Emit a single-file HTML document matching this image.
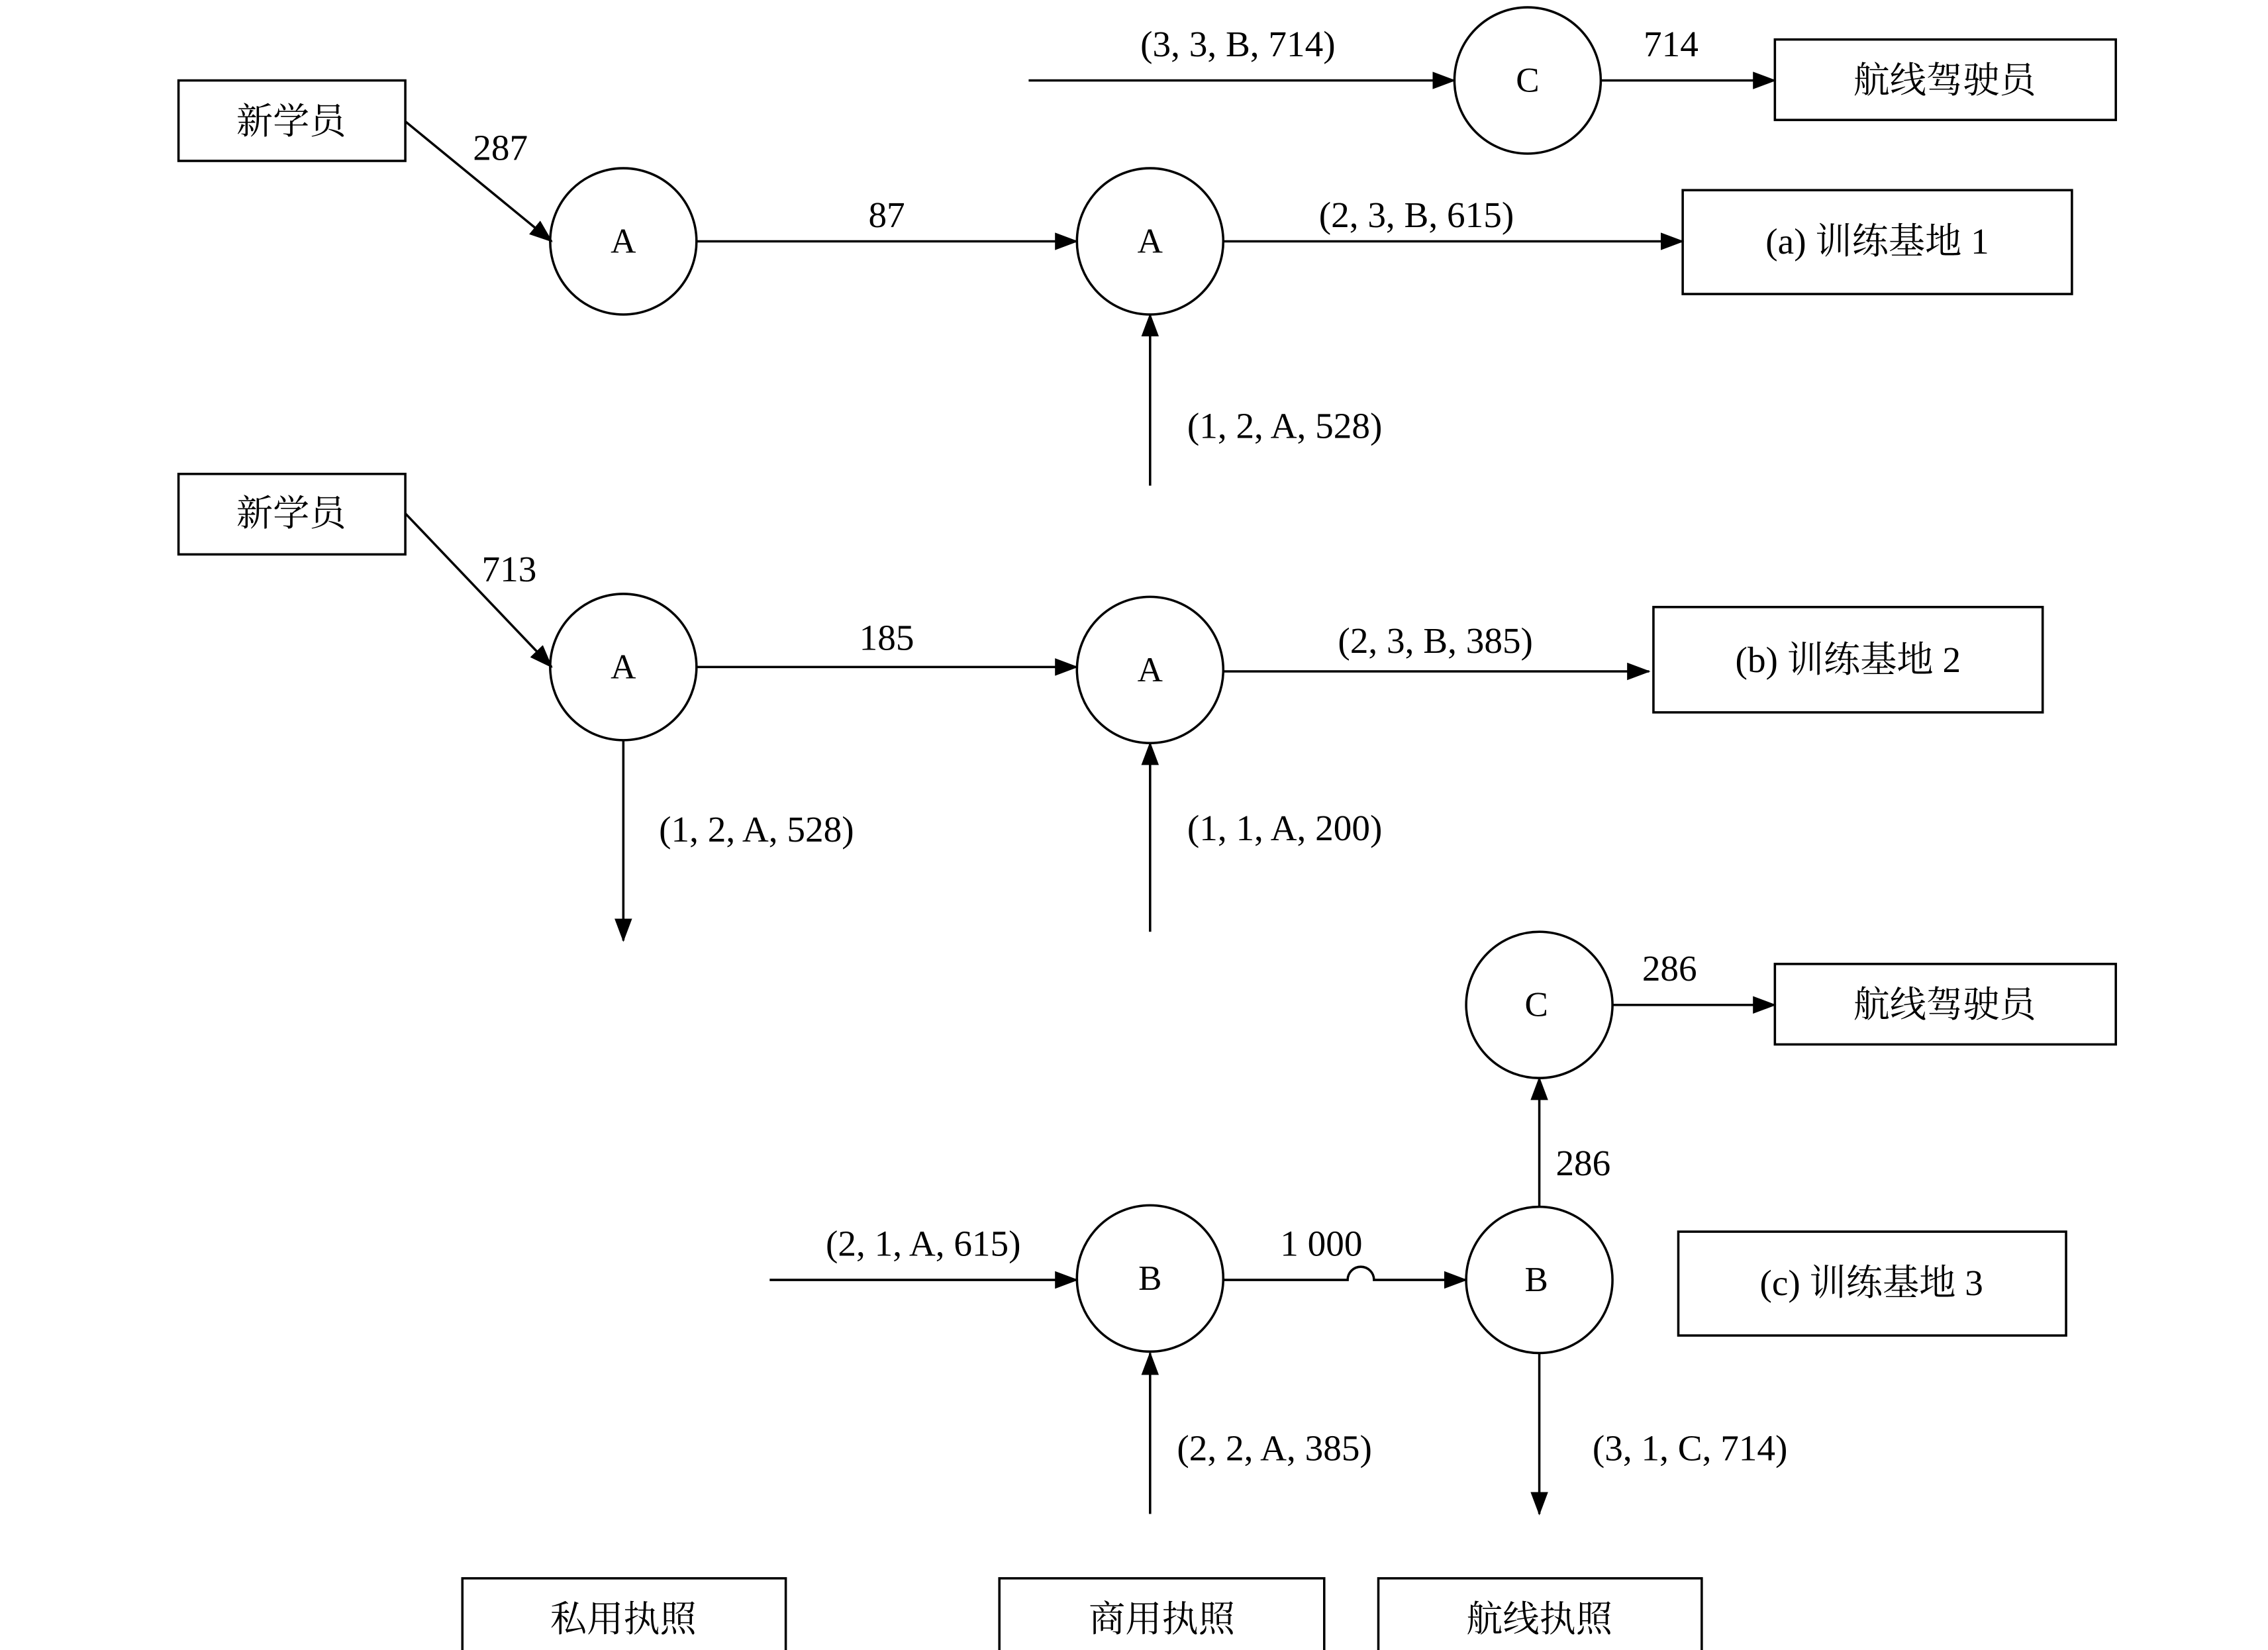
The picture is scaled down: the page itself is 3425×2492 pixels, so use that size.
<!DOCTYPE html>
<html><head><meta charset="utf-8">
<style>
html,body{margin:0;padding:0;background:#fff;}
svg{display:block;}
text{font-family:"Liberation Serif","Noto Serif CJK SC",serif;fill:#000;}
</style></head>
<body>
<svg width="3425" height="2492" viewBox="0 0 1550 1128" preserveAspectRatio="none" xmlns="http://www.w3.org/2000/svg">
<defs>
<marker id="ar" markerWidth="16" markerHeight="12" refX="15" refY="6" orient="auto" markerUnits="userSpaceOnUse">
<path d="M0,0 L16,6 L0,12 Z" fill="#000"/>
</marker>
</defs>
<g stroke="#000" stroke-width="1.6" fill="none">
<!-- boxes -->
<rect x="122" y="55" width="155" height="55"/>
<rect x="1213" y="27" width="233" height="55"/>
<rect x="1150" y="130" width="266" height="71"/>
<rect x="122" y="324" width="155" height="55"/>
<rect x="1130" y="415" width="266" height="72"/>
<rect x="1213" y="659" width="233" height="55"/>
<rect x="1147" y="842" width="265" height="71"/>
<rect x="316" y="1079" width="221" height="56"/>
<rect x="683" y="1079" width="222" height="56"/>
<rect x="942" y="1079" width="221" height="56"/>
<!-- circles -->
<circle cx="426" cy="165" r="50"/>
<circle cx="786" cy="165" r="50"/>
<circle cx="1044" cy="55" r="50"/>
<circle cx="426" cy="456" r="50"/>
<circle cx="786" cy="458" r="50"/>
<circle cx="1052" cy="687" r="50"/>
<circle cx="1052" cy="875" r="50"/>
<circle cx="786" cy="874" r="50"/>
<!-- arrows -->
<line x1="277" y1="83" x2="377" y2="165" marker-end="url(#ar)"/>
<line x1="476" y1="165" x2="736" y2="165" marker-end="url(#ar)"/>
<line x1="836" y1="165" x2="1150" y2="165" marker-end="url(#ar)"/>
<line x1="786" y1="332" x2="786" y2="215" marker-end="url(#ar)"/>
<line x1="703" y1="55" x2="994" y2="55" marker-end="url(#ar)"/>
<line x1="1094" y1="55" x2="1213" y2="55" marker-end="url(#ar)"/>
<line x1="277" y1="351" x2="377" y2="456" marker-end="url(#ar)"/>
<line x1="476" y1="456" x2="736" y2="456" marker-end="url(#ar)"/>
<line x1="836" y1="459" x2="1127" y2="459" marker-end="url(#ar)"/>
<line x1="426" y1="506" x2="426" y2="643" marker-end="url(#ar)"/>
<line x1="786" y1="637" x2="786" y2="508" marker-end="url(#ar)"/>
<line x1="1102" y1="687" x2="1213" y2="687" marker-end="url(#ar)"/>
<line x1="1052" y1="825" x2="1052" y2="737" marker-end="url(#ar)"/>
<line x1="526" y1="875" x2="736" y2="875" marker-end="url(#ar)"/>
<path d="M836,875 L921,875 A9,9 0 0 1 939,875 L1002,875" marker-end="url(#ar)"/>
<line x1="786" y1="1035" x2="786" y2="925" marker-end="url(#ar)"/>
<line x1="1052" y1="925" x2="1052" y2="1035" marker-end="url(#ar)"/>
</g>
<g font-size="25" text-anchor="middle" dominant-baseline="central">
<text x="199" y="83">新学员</text>
<text x="1329" y="55">航线驾驶员</text>
<text x="1283" y="165">(a) 训练基地 1</text>
<text x="199" y="351">新学员</text>
<text x="1263" y="451">(b) 训练基地 2</text>
<text x="1329" y="687">航线驾驶员</text>
<text x="1279" y="877">(c) 训练基地 3</text>
<text x="426" y="1107">私用执照</text>
<text x="794" y="1107">商用执照</text>
<text x="1052" y="1107">航线执照</text>
<g font-size="24">
<text x="426" y="165">A</text>
<text x="786" y="165">A</text>
<text x="1044" y="55">C</text>
<text x="426" y="456">A</text>
<text x="786" y="458">A</text>
<text x="1050" y="687">C</text>
<text x="1050" y="875">B</text>
<text x="786" y="874">B</text>
</g>
<text x="342" y="101">287</text>
<text x="606" y="147">87</text>
<text x="968" y="147">(2, 3, B, 615)</text>
<text x="878" y="291">(1, 2, A, 528)</text>
<text x="846" y="30">(3, 3, B, 714)</text>
<text x="1142" y="30">714</text>
<text x="348" y="389">713</text>
<text x="606" y="436">185</text>
<text x="981" y="438">(2, 3, B, 385)</text>
<text x="517" y="567">(1, 2, A, 528)</text>
<text x="878" y="566">(1, 1, A, 200)</text>
<text x="1141" y="662">286</text>
<text x="1082" y="795">286</text>
<text x="631" y="850">(2, 1, A, 615)</text>
<text x="903" y="850">1 000</text>
<text x="871" y="990">(2, 2, A, 385)</text>
<text x="1155" y="990">(3, 1, C, 714)</text>
</g>
</svg>
</body></html>
